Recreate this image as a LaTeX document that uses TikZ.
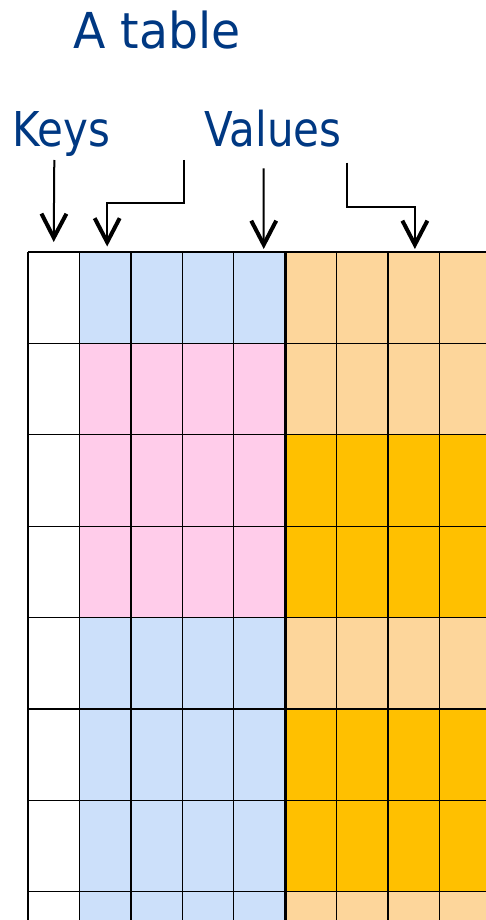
\documentclass[tikz,border=0pt]{standalone}
\usepackage{fontspec}
\setmainfont{DejaVu Sans}
\newfontfamily\labelfont[FakeStretch=0.875]{DejaVu Sans}
\newfontfamily\titlefont[FakeStretch=0.955]{DejaVu Sans}
\usepackage{xcolor}
\usetikzlibrary{positioning,arrows.meta}

\definecolor{inkblue}{HTML}{003882}
\definecolor{valblue}{HTML}{CCE0FA}
\definecolor{valpink}{HTML}{FFCCEA}
\definecolor{valpeach}{HTML}{FDD69B}
\definecolor{valgold}{HTML}{FFC000}

\begin{document}
\begin{tikzpicture}[x=1pt, y=-1pt,
  lbl/.style={inner sep=0pt, anchor=base west, text=inkblue,
              font=\labelfont\fontsize{48}{48}\selectfont},
  cell/.style={minimum width=51.45pt, minimum height=91.4pt, inner sep=0pt,
               anchor=north west, outer sep=0pt},
  thin line/.style={line width=1.3pt},
  thick line/.style={line width=2.6pt},
  arr/.style={-{Straight Barb[length=24pt, width=25pt, line width=4pt]}, line width=2pt}]
  \useasboundingbox (0,0) rectangle (486,920);
  \clip (0,0) rectangle (486,920);

  % labels
  \node[lbl, font=\titlefont\fontsize{49.5}{49.5}\selectfont] (title) at (73,48.3) {A table};
  \node[lbl] (keys) at (12,146.7) {Keys};
  \node[lbl] (values) at (204,146.7) {Values};

  % the table, row by row
  \foreach \r/\lc/\rc in {1/valblue/valpeach, 2/valpink/valpeach, 3/valpink/valgold,
                          4/valpink/valgold, 5/valblue/valpeach, 6/valblue/valgold,
                          7/valblue/valgold, 8/valblue/valpeach} {
    \node[cell] (c-\r-0) at (28, {252+91.4*(\r-1)}) {};
    \foreach \c in {1,...,4}
      \node[cell, fill=\lc] (c-\r-\c) at ({28+51.45*\c}, {252+91.4*(\r-1)}) {};
    \foreach \c in {5,...,8}
      \node[cell, fill=\rc] (c-\r-\c) at ({28+51.45*\c}, {252+91.4*(\r-1)}) {};
  }
  \foreach \c in {1,3,4,6,8}
    \draw[thin line] (c-1-\c.north west) -- (c-8-\c.south west);
  \foreach \r in {1,2,3,4,5,7,8}
    \draw[thin line] (c-\r-0.north west) -- (c-\r-8.north east);
  \draw[thick line] (c-6-0.north west) -- (c-6-8.north east);
  \foreach \c in {0,2,5,7}
    \draw[thick line] (c-1-\c.north west) -- (c-8-\c.south west);

  % arrows
  \coordinate (ks) at (54.3,160);
  \coordinate (vs1) at (184.3,160);
  \coordinate (vs2) at (263.7,168.3);
  \coordinate (vs3) at (346.7,162.7);
  \draw[arr] (ks) -- ([yshift=10pt]c-1-0.north);
  \draw[arr] (vs1) -- ++(0,43.3) -| ([xshift=2pt, yshift=5.5pt]c-1-1.north);
  \draw[arr] (vs2) -- ([xshift=4.2pt, yshift=3pt]c-1-4.north);
  \draw[arr] (vs3) -- ++(0,44) -| ([xshift=1pt, yshift=3pt]c-1-7.north);
\end{tikzpicture}
\end{document}
